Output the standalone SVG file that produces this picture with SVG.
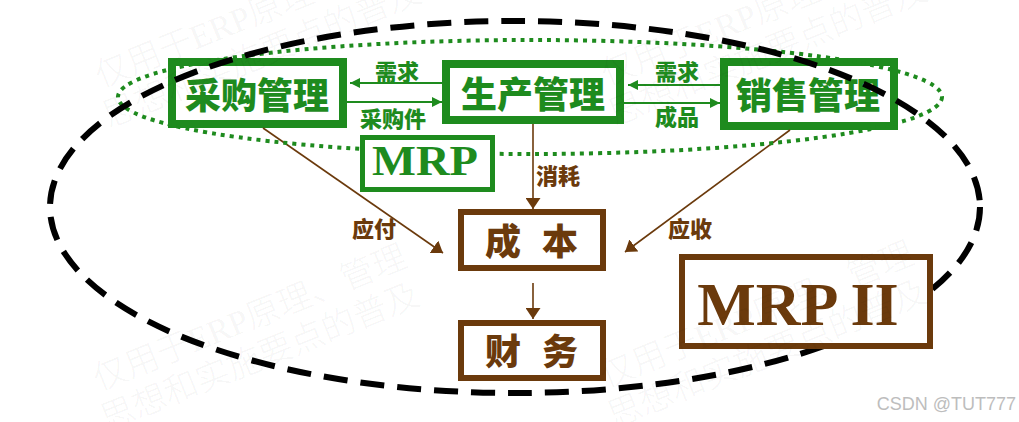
<svg xmlns="http://www.w3.org/2000/svg" width="1019" height="422" viewBox="0 0 1019 422">
  <style>
    .gbox{fill:none;stroke:#1e8b1e;stroke-width:8}
    .gtxt{fill:#1e8b1e;font-family:"Noto Sans CJK SC",sans-serif;font-weight:900;text-anchor:middle}
    .big{font-size:36px}
    .sm{font-size:22px}
    .bbox{fill:#fff;stroke:#6b3a0c;stroke-width:6}
    .btxt{fill:#6b3a0c;font-family:"Noto Sans CJK SC",sans-serif;font-weight:900}
    .gline{stroke:#1e8b1e;stroke-width:2;fill:none}
    .bline{stroke:#6b3a0c;stroke-width:1.6;fill:none}
    .wm{fill:#000;fill-opacity:0.05;font-family:"Liberation Serif","Noto Sans CJK SC",serif;font-size:34px;font-weight:300}
  </style>
  <defs>
    <marker id="ga" viewBox="0 0 10 10" refX="10" refY="5" markerWidth="10" markerHeight="10" markerUnits="userSpaceOnUse" orient="auto">
      <path d="M0,0 L10,5 L0,10 z" fill="#1e8b1e"/>
    </marker>
    <marker id="ba" viewBox="0 0 11 15" refX="11" refY="7.5" markerWidth="11" markerHeight="15" markerUnits="userSpaceOnUse" orient="auto">
      <path d="M0,0 L11,7.5 L0,15 z" fill="#6b3a0c"/>
    </marker>
  </defs>
  <rect width="1019" height="422" fill="#fff"/>

  <g id="node-purchase">
    <rect class="gbox" x="172" y="62" width="171" height="62"/>
    <text class="gtxt big" x="257" y="109">采购管理</text>
  </g>
  <g id="node-production">
    <rect class="gbox" x="446" y="64" width="174" height="56"/>
    <text class="gtxt big" x="533" y="108">生产管理</text>
  </g>
  <g id="node-sales">
    <rect class="gbox" x="724" y="62" width="170" height="64"/>
    <text class="gtxt big" x="808" y="109">销售管理</text>
  </g>

  <g id="connectors">
    <line class="gline" x1="442" y1="83" x2="350" y2="83" marker-end="url(#ga)"/>
    <line class="gline" x1="347" y1="102" x2="442" y2="102" marker-end="url(#ga)"/>
    <line class="gline" x1="720" y1="85" x2="628" y2="85" marker-end="url(#ga)"/>
    <line class="gline" x1="624" y1="103" x2="720" y2="103" marker-end="url(#ga)"/>
    <text class="gtxt sm" x="397" y="80">需求</text>
    <text class="gtxt sm" x="393" y="127">采购件</text>
    <text class="gtxt sm" x="677" y="80">需求</text>
    <text class="gtxt sm" x="677" y="125">成品</text>
    <line class="bline" x1="533" y1="124" x2="533" y2="209" marker-end="url(#ba)"/>
    <line class="bline" x1="533" y1="283" x2="533" y2="319" marker-end="url(#ba)"/>
    <line class="bline" x1="263" y1="128" x2="443" y2="253" marker-end="url(#ba)"/>
    <line class="bline" x1="790" y1="130" x2="625" y2="252" marker-end="url(#ba)"/>
    <text class="btxt sm" x="558" y="184" text-anchor="middle">消耗</text>
    <text class="btxt sm" x="374" y="237" text-anchor="middle">应付</text>
    <text class="btxt sm" x="690" y="237" text-anchor="middle">应收</text>
  </g>

  <ellipse id="mrp-scope" cx="530" cy="97" rx="412" ry="57" fill="none" stroke="#1e8b1e" stroke-width="4" stroke-dasharray="4 5"/>
  <ellipse id="mrp2-scope" cx="515" cy="207" rx="465" ry="186" fill="none" stroke="#000" stroke-width="6" stroke-dasharray="24 13"/>

  <g id="node-mrp">
    <rect x="362.5" y="137.5" width="130" height="52" fill="#fff" stroke="#1e8b1e" stroke-width="5"/>
    <text x="425" y="175" text-anchor="middle" textLength="106" lengthAdjust="spacingAndGlyphs" fill="#1e8b1e" font-family="Liberation Serif, serif" font-weight="bold" font-size="42">MRP</text>
  </g>
  <g id="node-cost">
    <rect class="bbox" x="461" y="212" width="142" height="56"/>
    <text class="btxt" x="485" y="255" font-size="36" letter-spacing="21">成本</text>
  </g>
  <g id="node-finance">
    <rect class="bbox" x="461" y="323" width="142" height="55"/>
    <text class="btxt" x="485" y="365" font-size="36" letter-spacing="21">财务</text>
  </g>
  <g id="node-mrp2">
    <rect class="bbox" x="682" y="257" width="248" height="89" stroke-width="6"/>
    <text x="798" y="325" text-anchor="middle" fill="#6b3a0c" font-family="Liberation Serif, serif" font-weight="bold" font-size="62">MRP II</text>
  </g>

  <g id="watermarks">
    <g transform="translate(101,88) rotate(-22)"><text class="wm" x="0" y="0">仅用于ERP原理、管理</text><text class="wm" x="-8" y="40">思想和实施要点的普及</text></g>
    <g transform="translate(607,86) rotate(-22)"><text class="wm" x="0" y="0">仅用于ERP原理、管理</text><text class="wm" x="-8" y="40">思想和实施要点的普及</text></g>
    <g transform="translate(99,391) rotate(-22)"><text class="wm" x="0" y="0">仅用于ERP原理、管理</text><text class="wm" x="-8" y="40">思想和实施要点的普及</text></g>
    <g transform="translate(606,388) rotate(-22)"><text class="wm" x="0" y="0">仅用于ERP原理、管理</text><text class="wm" x="-8" y="40">思想和实施要点的普及</text></g>
  </g>
  <text x="1016" y="410" text-anchor="end" fill="#bdbdbd" font-family="Liberation Sans, Arial, sans-serif" font-size="18">CSDN @TUT777</text>
</svg>
